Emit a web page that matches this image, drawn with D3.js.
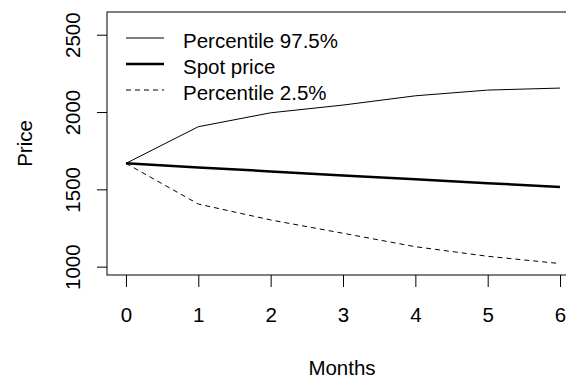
<!DOCTYPE html>
<html>
<head>
<meta charset="utf-8">
<script src="https://cdn.jsdelivr.net/npm/d3@7"></script>
<style>
  body { margin: 0; background: #fff; }
  svg { display: block; font-family: "Liberation Sans", Arial, sans-serif; }
  text { fill: #000; }
</style>
</head>
<body>
<svg width="566" height="379"></svg>
<script>
const months = [0, 1, 2, 3, 4, 5, 6];
const upper = [1668, 1905, 1995, 2045, 2105, 2142, 2155];   // percentile 97.5%
const spot = [1668, 1642, 1616, 1590, 1565, 1540, 1515];
const lower = [1668, 1405, 1302, 1216, 1129, 1067, 1020];   // percentile 2.5%
const xTicks = [0, 1, 2, 3, 4, 5, 6];
const yTicks = [1000, 1500, 2000, 2500];
const legendLabels = ['Percentile 97.5%', 'Spot price', 'Percentile 2.5%'];

const plot = { left: 107, right: 577, top: 12, bottom: 275 };

const x = d3.scaleLinear().domain([-0.24, 6.24]).range([108.6, 577.4]);
const y = d3.scaleLinear().domain([946, 2647]).range([plot.bottom, plot.top]);

const svg = d3.select('svg');

// box round the plot
svg.append('rect')
    .attr('x', plot.left).attr('y', plot.top)
    .attr('width', plot.right - plot.left).attr('height', plot.bottom - plot.top)
    .attr('fill', 'none').attr('stroke', '#000').attr('stroke-width', 1);

// axes, R style: ticks outside, no domain line (box covers it)
const yAxis = svg.append('g')
    .attr('transform', `translate(${plot.left},0)`)
    .call(d3.axisLeft(y).tickValues(yTicks).tickFormat(d3.format('d')).tickSize(10).tickSizeOuter(0));
yAxis.select('.domain').remove();
yAxis.selectAll('line').attr('stroke', '#000');
yAxis.selectAll('text')
    .attr('transform', 'rotate(-90)')
    .attr('x', 0).attr('y', -27).attr('dy', null)
    .attr('text-anchor', 'middle')
    .style('font-size', '20.5px').style('font-family', null);

const xAxis = svg.append('g')
    .attr('transform', `translate(0,${plot.bottom})`)
    .call(d3.axisBottom(x).tickValues(xTicks).tickFormat(d3.format('d')).tickSize(12).tickSizeOuter(0));
xAxis.select('.domain').remove();
xAxis.selectAll('line').attr('stroke', '#000');
xAxis.selectAll('text')
    .attr('y', 47).attr('dy', null)
    .style('font-size', '20.5px').style('font-family', null);

// axis titles
svg.append('text')
    .attr('x', (plot.left + plot.right) / 2).attr('y', 375)
    .attr('text-anchor', 'middle').style('font-size', '20.5px')
    .text('Months');
svg.append('text')
    .attr('transform', `translate(32,${(plot.top + plot.bottom) / 2}) rotate(-90)`)
    .attr('text-anchor', 'middle').style('font-size', '20.5px')
    .text('Price');

// lines
const line = d3.line().x((d, i) => x(months[i])).y(d => y(d));
const series = [
    { values: upper, width: 1, dash: null },
    { values: spot, width: 2.5, dash: null },
    { values: lower, width: 1, dash: '5,4' }
];
svg.selectAll('.series')
    .data(series)
    .enter()
    .append('path')
    .classed('series', true)
    .attr('d', d => line(d.values))
    .attr('fill', 'none')
    .attr('stroke', '#000')
    .attr('stroke-width', d => d.width)
    .attr('stroke-dasharray', d => d.dash);

// legend
const legend = svg.append('g');
const rows = legend.selectAll('g')
    .data(series)
    .enter()
    .append('g')
    .attr('transform', (d, i) => `translate(126,${38 + i * 26})`);
rows.append('line')
    .attr('x1', 0).attr('x2', 38)
    .attr('stroke', '#000')
    .attr('stroke-width', d => d.width)
    .attr('stroke-dasharray', d => d.dash);
rows.append('text')
    .attr('x', 57).attr('y', 10)
    .style('font-size', '20.5px')
    .text((d, i) => legendLabels[i]);
</script>
</body>
</html>
